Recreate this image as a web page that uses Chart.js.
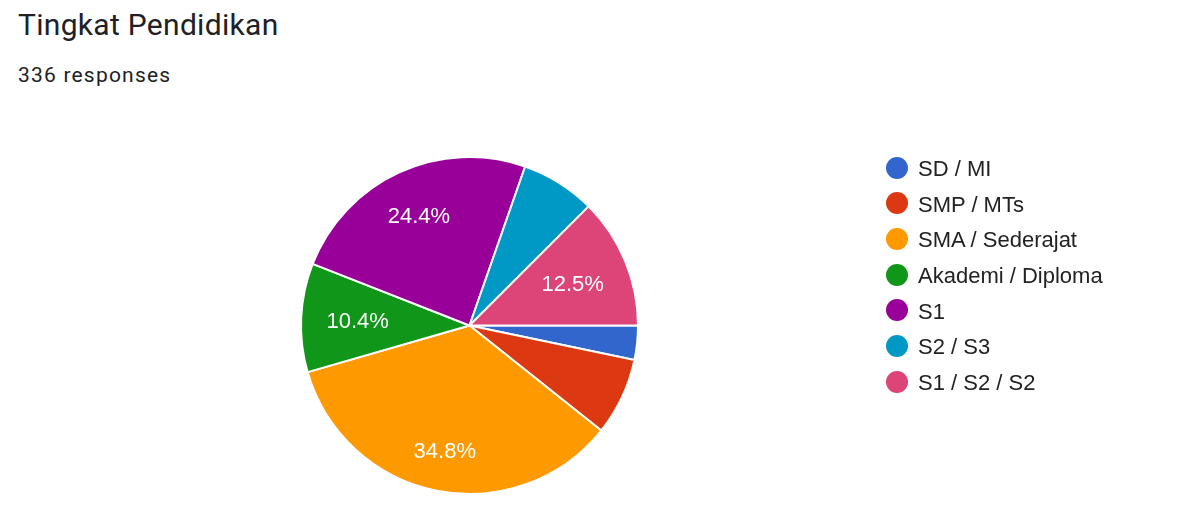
<!DOCTYPE html>
<html>
<head>
<meta charset="utf-8">
<script src="https://cdn.jsdelivr.net/npm/chart.js@4"></script>
<style>
  html, body { margin: 0; padding: 0; background: #fff; }
  body { width: 1203px; height: 521px; position: relative; overflow: hidden; }
  #title {
    position: absolute; left: 18px; top: 10px;
    font: 30px/30px Roboto, Arial, sans-serif; color: #202124;
    letter-spacing: 0.3px; white-space: nowrap;
  }
  #subtitle {
    position: absolute; left: 18px; top: 65px;
    font: 21px/21px Roboto, Arial, sans-serif; color: #202124;
    letter-spacing: 1.2px; white-space: nowrap;
  }
  #chart { position: absolute; left: 0; top: 0; }
  .legend-item { position: absolute; left: 886px; height: 22px; white-space: nowrap; }
  .legend-dot { position: absolute; left: 0; top: 0; width: 22px; height: 22px; border-radius: 50%; }
  .legend-text {
    position: absolute; left: 32px; top: 1.4px;
    font: 22px/22px "Liberation Sans", Arial, sans-serif; color: #222;
  }
</style>
</head>
<body>
<div id="title">Tingkat Pendidikan</div>
<div id="subtitle">336 responses</div>
<canvas id="chart" width="1203" height="521"></canvas>
<div id="legend"></div>
<script>
// ── Data ───────────────────────────────────────────────────────────
const categories = ["SD / MI", "SMP / MTs", "SMA / Sederajat", "Akademi / Diploma", "S1", "S2 / S3", "S1 / S2 / S2"]
const responses  = [11, 25, 117, 35, 82, 24, 42]
const colors     = ["#3366cc", "#dc3912", "#ff9900", "#109618", "#990099", "#0099c6", "#dd4477"]

// ── Legend (HTML) ──────────────────────────────────────────────────
const legendEl = document.getElementById("legend")
categories.forEach((name, i) => {
  const item = document.createElement("div")
  item.className = "legend-item"
  item.style.top = (156.7 + i * 35.67) + "px"
  item.innerHTML = `<div class="legend-dot" style="background:${colors[i]}"></div><div class="legend-text">${name}</div>`
  legendEl.appendChild(item)
})

// ── Percent labels inside slices ───────────────────────────────────
const sliceLabels = {
  id: "sliceLabels",
  afterDatasetsDraw(chart) {
    const ctx = chart.ctx
    const meta = chart.getDatasetMeta(0)
    const data = chart.data.datasets[0].data
    const total = data.reduce((a, b) => a + b, 0)
    const fontSize = 22
    ctx.save()
    ctx.font = `${fontSize}px "Liberation Sans", Arial, sans-serif`
    ctx.fillStyle = "#fff"
    ctx.textAlign = "center"
    ctx.textBaseline = "alphabetic"
    meta.data.forEach((arc, i) => {
      const pct = data[i] / total * 100
      if (pct < 10) return
      const { x, y, startAngle, endAngle, outerRadius } = arc.getProps(["x", "y", "startAngle", "endAngle", "outerRadius"], true)
      const mid = (startAngle + endAngle) / 2
      const ux = Math.cos(mid), uy = Math.sin(mid)
      const text = pct.toFixed(1) + "%"
      const w = ctx.measureText(text).width
      const h = fontSize * 0.716
      const R = outerRadius * 0.852
      // push the label out until its far corner sits on radius R
      const a = Math.sign(ux) * w / 2, b = Math.sign(uy) * h / 2
      const B = ux * a + uy * b
      const C = a * a + b * b - R * R
      const d = -B + Math.sqrt(B * B - C)
      ctx.fillText(text, x + d * ux, y + d * uy + h / 2)
    })
    ctx.restore()
  }
}

// ── Pie ────────────────────────────────────────────────────────────
new Chart(document.getElementById("chart"), {
  type: "pie",
  data: {
    labels: categories,
    datasets: [{
      data: responses,
      backgroundColor: colors,
      borderColor: "#fff",
      borderWidth: 2,
    }]
  },
  options: {
    responsive: false,
    animation: false,
    devicePixelRatio: 1,
    events: [],
    rotation: 90,
    radius: 168.5,
    layout: { padding: { left: 301, right: 565, top: 157, bottom: 27 } },
    plugins: {
      legend: { display: false },
      tooltip: { enabled: false }
    }
  },
  plugins: [sliceLabels]
})
</script>
</body>
</html>
